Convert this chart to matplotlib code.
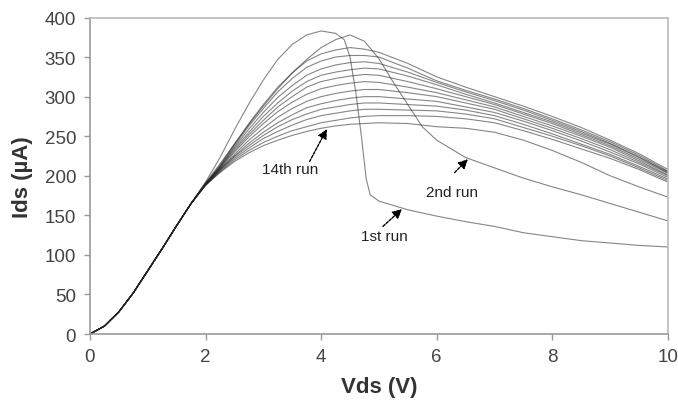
import matplotlib.pyplot as plt

plt.rcParams['font.family'] = ['Liberation Sans', 'DejaVu Sans']

# common rise shared by every run (Vds 0..1.75 V)
rise_v = [0, 0.25, 0.5, 0.75, 1.0, 1.25, 1.5, 1.75]
rise_i = [0, 10, 28, 52, 80, 108, 137, 165]

# 1st run
run1_v = [2.0, 2.25, 2.5, 2.75, 3.0, 3.25, 3.5, 3.75, 4.0, 4.25, 4.4, 4.5, 4.6, 4.7,
          4.78, 4.85, 5.0, 5.5, 6.0, 6.5, 7.0, 7.5, 8.0, 8.5, 9.0, 9.5, 10.0]
run1_i = [192, 223, 258, 291, 321, 347, 366, 378, 383, 380, 372, 350, 306, 248,
          196, 176, 168, 157, 149, 142, 136, 128, 123, 118, 115, 112, 110]

# 2nd run
run2_v = [2.0, 2.25, 2.5, 2.75, 3.0, 3.25, 3.5, 3.75, 4.0, 4.25, 4.5, 4.75, 5.0,
          5.25, 5.5, 5.75, 6.0, 6.5, 7.0, 7.5, 8.0, 8.5, 9.0, 9.5, 10.0]
run2_i = [191, 215, 240, 265, 288, 310, 330, 347, 362, 372, 378, 370, 348,
          318, 290, 262, 245, 223, 210, 197, 186, 176, 165, 154, 143]

# runs 3..14 on a shared Vds grid
tail_v = [2.0, 2.25, 2.5, 2.75, 3.0, 3.25, 3.5, 3.75, 4.0, 4.25, 4.5, 4.75, 5.0,
          5.5, 6.0, 6.5, 7.0, 7.5, 8.0, 8.5, 9.0, 9.5, 10.0]
runs_i = [
    [190, 213, 240, 266, 290, 312, 330, 345, 354, 359, 362, 360, 356, 342, 325, 312, 300, 288, 275, 261, 245, 228, 208],
    [190, 212, 238, 263, 285, 306, 323, 337, 345, 350, 352, 352, 350, 336, 320, 308, 297, 285, 272, 258, 243, 226, 206],
    [190, 211, 236, 259, 280, 299, 314, 327, 335, 340, 343, 344, 342, 331, 318, 306, 295, 283, 270, 256, 241, 224, 205],
    [190, 211, 234, 255, 275, 292, 307, 319, 327, 331, 334, 336, 335, 326, 315, 303, 292, 280, 268, 254, 240, 223, 204],
    [189, 210, 232, 252, 270, 287, 300, 312, 319, 323, 326, 328, 327, 319, 310, 300, 290, 278, 266, 252, 238, 221, 203],
    [189, 209, 230, 249, 266, 281, 293, 303, 310, 314, 317, 319, 318, 312, 305, 296, 287, 275, 263, 250, 236, 219, 201],
    [189, 208, 227, 245, 260, 274, 285, 294, 300, 304, 307, 309, 309, 305, 300, 292, 284, 272, 260, 247, 233, 217, 200],
    [189, 208, 225, 241, 255, 267, 277, 286, 291, 295, 298, 300, 300, 297, 294, 287, 280, 269, 257, 244, 230, 215, 198],
    [188, 207, 224, 238, 251, 262, 271, 278, 284, 287, 290, 292, 292, 290, 288, 283, 276, 265, 253, 240, 227, 212, 196],
    [188, 206, 222, 235, 247, 256, 264, 271, 276, 279, 282, 284, 284, 283, 282, 278, 272, 261, 250, 238, 225, 210, 194],
    [188, 205, 220, 232, 242, 250, 257, 262, 267, 270, 273, 275, 276, 276, 275, 272, 267, 257, 246, 234, 222, 208, 192],
    [188, 204, 218, 229, 238, 245, 251, 256, 260, 263, 265, 266, 267, 266, 262, 260, 255, 245, 232, 217, 200, 186, 173],
]

fig = plt.figure(figsize=(6.78, 4.14), dpi=100)
ax = fig.add_axes([0.1327, 0.1908, 0.8523, 0.7645])

line_kw = dict(color='#222222', alpha=0.55, lw=0.8)
ax.plot(rise_v + run1_v, rise_i + run1_i, **line_kw)
ax.plot(rise_v + run2_v, rise_i + run2_i, **line_kw)
for vals in runs_i:
    ax.plot(rise_v + tail_v, rise_i + vals, **line_kw)

ax.set_xlim(0, 10)
ax.set_ylim(0, 400)
ax.set_xticks([0, 2, 4, 6, 8, 10])
ax.set_yticks(range(0, 401, 50))

for side in ['left', 'bottom']:
    ax.spines[side].set_color('#999999')
    ax.spines[side].set_linewidth(1.2)
for side in ['top', 'right']:
    ax.spines[side].set_color('#bbbbbb')
    ax.spines[side].set_linewidth(1.2)
ax.spines['top'].set_linestyle((0, (2, 1)))
ax.tick_params(direction='out', length=4, width=1, color='#999999',
               labelsize=13.5, labelcolor='#444444', pad=6)

ax.set_xlabel('Vds (V)', fontsize=16, fontweight='bold', color='#333333', labelpad=8)
ax.set_ylabel('Ids (\u00b5A)', fontsize=16, fontweight='bold', color='#333333', labelpad=8)

arrow = dict(arrowstyle='-|>', color='black', lw=1, linestyle=(0, (2, 1)),
             mutation_scale=14, shrinkA=0, shrinkB=0)
label_kw = dict(fontsize=11, color='#222222', ha='center', va='center')

ax.text(3.46, 208, '14th run', **label_kw)
ax.annotate('', xy=(4.1, 259), xytext=(3.8, 218), arrowprops=arrow)
ax.text(6.26, 179, '2nd run', **label_kw)
ax.annotate('', xy=(6.54, 221), xytext=(6.31, 204), arrowprops=arrow)
ax.text(5.1, 124, '1st run', **label_kw)
ax.annotate('', xy=(5.4, 158), xytext=(5.07, 136), arrowprops=arrow)

fig.savefig('out.png', dpi=100)
